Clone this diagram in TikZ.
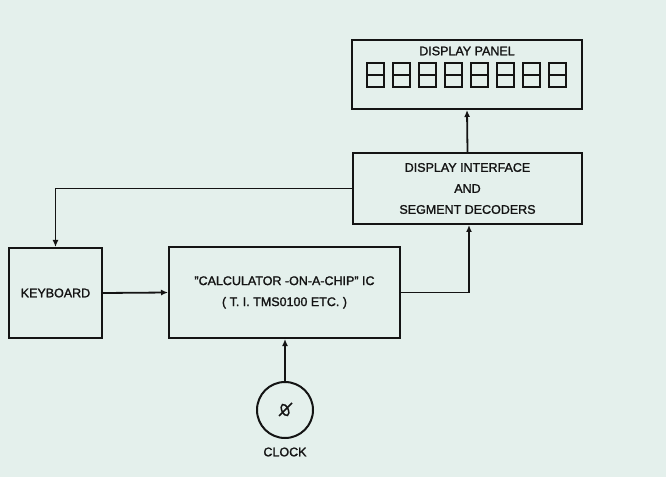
\documentclass[tikz,border=0pt]{standalone}
\usepackage{fontspec}
\setmainfont{Liberation Sans}[FakeBold=1.5]
\usetikzlibrary{arrows.meta,calc}
\definecolor{bg}{RGB}{228,240,236}
\definecolor{ink}{RGB}{20,20,20}
\tikzset{
  blk/.style={draw=ink,line width=2pt,rectangle,inner sep=0pt,align=center,font=\fontsize{12.5}{21}\selectfont,text=ink},
  lbl/.style={font=\fontsize{12.5}{14}\selectfont,text=ink},
  conn/.style={draw=ink,line width=1.8pt,-{Latex[length=7pt,width=6pt]}},
  seg/.style={draw=ink,line width=1.8pt}
}
\begin{document}
\begin{tikzpicture}[x=1pt,y=1pt]
\fill[bg] (0,0) rectangle (666,477);
\useasboundingbox (0,0) rectangle (666,477);
% blocks
\node[blk,minimum width=230pt,minimum height=69pt] (panel) at (467,402.5) {};
\node[lbl] (paneltxt) at (467,426) {DISPLAY PANEL};
\foreach \i in {0,...,7}{
  \pgfmathsetmacro{\xl}{367+\i*26}
  \draw[seg] (\xl,390) rectangle ++(17,24);
  \draw[seg] (\xl,402) -- ++(17,0);
}
\node[blk,minimum width=229pt,minimum height=71pt] (iface) at (467.5,288.5) {DISPLAY INTERFACE\\AND\\SEGMENT DECODERS};
\node[blk,minimum width=93pt,minimum height=90pt] (kb) at (55.5,184) {KEYBOARD};
\node[blk,minimum width=231pt,minimum height=91pt] (calc) at (284.5,184.5) {"CALCULATOR -ON-A-CHIP" IC\\( T. I. TMS0100 ETC. )};
\node[draw=ink,line width=2pt,circle,minimum size=56pt,inner sep=0pt] (clock) at (285,67) {};
\node[lbl] (clocktxt) at (285,25) {CLOCK};
% phi symbol
\draw[ink,line width=1.5pt,rotate around={25:(285,67)}] (285,67) ellipse (3.2pt and 6pt);
\draw[ink,line width=1.5pt] (279,61) -- (292,74);
% connectors
\draw[conn] (kb.east) -- (calc.west);
\draw[conn] (calc.east) -| ($(iface.south)+(1.5,0)$);
\draw[conn] (iface.west) -| (kb.north);
\draw[conn] (iface.north) -- (panel.south);
\draw[conn] (clock.north) -- (clock.north |- calc.south);
\end{tikzpicture}
\end{document}
